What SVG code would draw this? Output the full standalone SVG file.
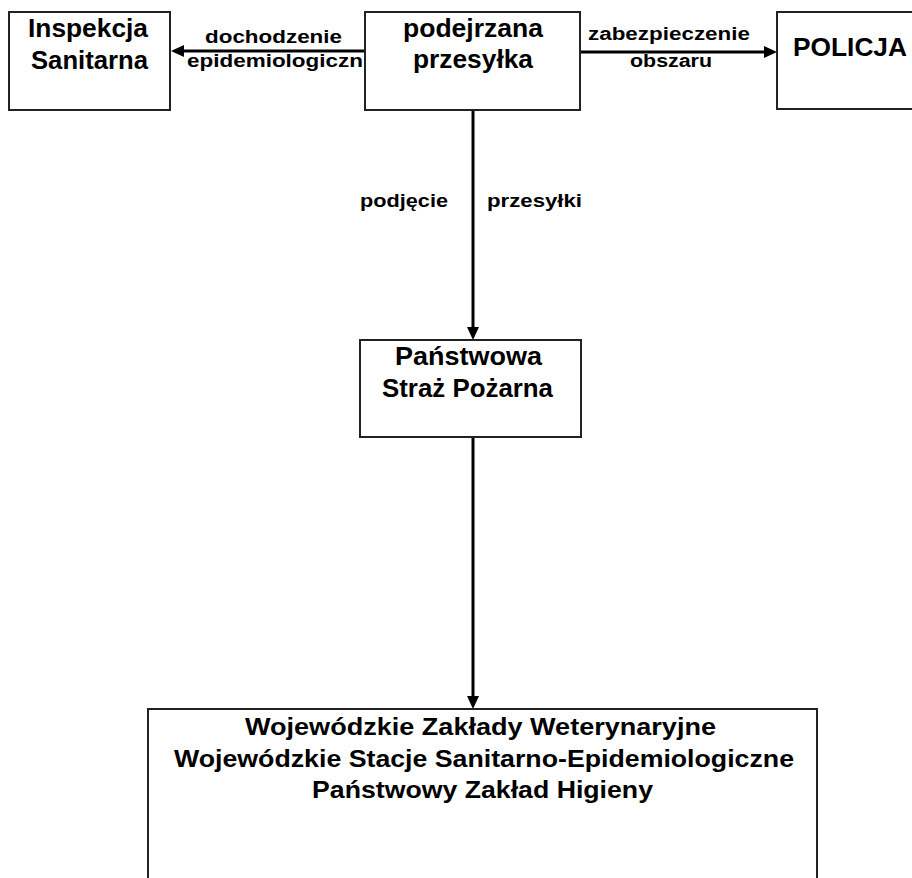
<svg xmlns="http://www.w3.org/2000/svg" width="912" height="878" viewBox="0 0 912 878">
<style>
  .box { fill: #ffffff; stroke: #222222; stroke-width: 2; }
  .t { font-family: "Liberation Sans", Arial, sans-serif; font-weight: bold; fill: #000000; text-anchor: middle; }
  .bt { font-size: 26px; }
  .lt { font-size: 18px; }
  .wt { font-size: 24px; }
  .conn { stroke: #000000; stroke-width: 3; fill: none; }
</style>
<defs>
  <marker id="arr" markerUnits="userSpaceOnUse" markerWidth="13" markerHeight="12" refX="2" refY="6" orient="auto">
    <path d="M0,0 L13,6 L0,12 z" fill="#000000"/>
  </marker>
</defs>
<rect width="912" height="878" fill="#ffffff"/>

<g id="connectors">
  <line class="conn" x1="365" y1="51" x2="182" y2="51" marker-end="url(#arr)"/>
  <line class="conn" x1="580" y1="52" x2="766" y2="52" marker-end="url(#arr)"/>
  <line class="conn" x1="473" y1="110" x2="473" y2="329" marker-end="url(#arr)"/>
  <line class="conn" x1="473" y1="437" x2="473" y2="698" marker-end="url(#arr)"/>
  <text class="t lt" x="273.5" y="43" textLength="137" lengthAdjust="spacingAndGlyphs">dochodzenie</text>
  <text class="t lt" x="275" y="67" textLength="176" lengthAdjust="spacingAndGlyphs">epidemiologiczn</text>
  <text class="t lt" x="669" y="40" textLength="162" lengthAdjust="spacingAndGlyphs">zabezpieczenie</text>
  <text class="t lt" x="671" y="67" textLength="82" lengthAdjust="spacingAndGlyphs">obszaru</text>
  <text class="t lt" x="404" y="207" textLength="88" lengthAdjust="spacingAndGlyphs">podjęcie</text>
  <text class="t lt" x="534.5" y="207" textLength="95" lengthAdjust="spacingAndGlyphs">przesyłki</text>
</g>

<g id="inspekcja">
  <rect class="box" x="9" y="12" width="161" height="98"/>
  <text class="t bt" x="88" y="37" textLength="120" lengthAdjust="spacingAndGlyphs">Inspekcja</text>
  <text class="t bt" x="89.5" y="69" textLength="117" lengthAdjust="spacingAndGlyphs">Sanitarna</text>
</g>

<g id="przesylka">
  <rect class="box" x="365" y="12" width="215" height="98"/>
  <text class="t bt" x="473" y="37" textLength="140" lengthAdjust="spacingAndGlyphs">podejrzana</text>
  <text class="t bt" x="473" y="68" textLength="120" lengthAdjust="spacingAndGlyphs">przesyłka</text>
</g>

<g id="policja">
  <rect class="box" x="777" y="12" width="160" height="97"/>
  <text class="t bt" x="850" y="56" textLength="114" lengthAdjust="spacingAndGlyphs">POLICJA</text>
</g>

<g id="psp">
  <rect class="box" x="360" y="340" width="221" height="97"/>
  <text class="t bt" x="468.5" y="365" textLength="147" lengthAdjust="spacingAndGlyphs">Państwowa</text>
  <text class="t bt" x="467.5" y="397" textLength="171" lengthAdjust="spacingAndGlyphs">Straż Pożarna</text>
</g>

<g id="instytucje">
  <rect class="box" x="148" y="709" width="669" height="200"/>
  <text class="t wt" x="480.5" y="735" textLength="471" lengthAdjust="spacingAndGlyphs">Wojewódzkie Zakłady Weterynaryjne</text>
  <text class="t wt" x="484" y="767" textLength="620" lengthAdjust="spacingAndGlyphs">Wojewódzkie Stacje Sanitarno-Epidemiologiczne</text>
  <text class="t wt" x="482.5" y="798" textLength="341" lengthAdjust="spacingAndGlyphs">Państwowy Zakład Higieny</text>
</g>
</svg>
